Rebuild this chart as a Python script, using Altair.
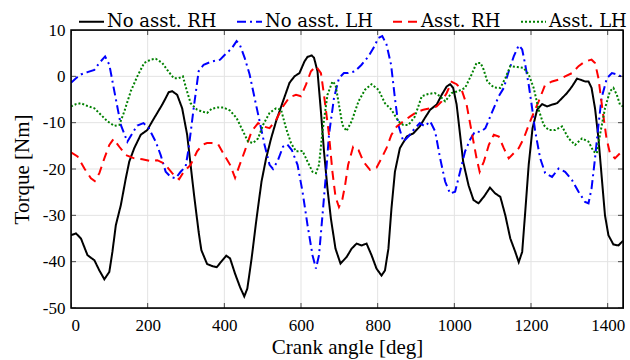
import altair as alt
import pandas as pd

# Crank torque traces over two crank revolutions (deg, Nm)
rh_no_deg = [0, 13, 26, 43, 61, 74, 87, 100, 108, 117, 130, 143, 152, 165, 182, 199, 212, 225, 238, 247,
             255, 264, 277, 290, 303, 312, 321, 333, 340, 355, 370, 380, 392, 405, 415, 428, 441, 452, 460, 471,
             484, 497, 509, 522, 535, 553, 570, 583, 596, 609, 617, 628, 634, 643, 652, 660, 669, 678, 690, 703,
             719, 732, 745, 758, 771, 784, 797, 810, 819, 828, 836, 845, 858, 876, 893, 910, 923, 937, 954, 967,
             980, 989, 997, 1006, 1015, 1023, 1037, 1050, 1063, 1077, 1093, 1107, 1120, 1133, 1146, 1159, 1168, 1177, 1185, 1194,
             1204, 1216, 1229, 1242, 1255, 1268, 1281, 1294, 1307, 1320, 1328, 1341, 1350, 1358, 1367, 1376, 1384, 1393, 1402, 1415,
             1428, 1440]
rh_no_nm = [-34.3, -33.9, -35.0, -38.6, -39.7, -41.9, -43.8, -42.2, -37.9, -32.1, -27.8, -22.0, -18.4, -15.5, -12.6, -11.6, -9.7, -7.9, -6.1, -4.7,
            -3.4, -3.2, -4.0, -6.9, -12.6, -19.1, -25.6, -33.6, -37.5, -40.5, -41.0, -41.2, -40.0, -38.7, -39.3, -42.6, -45.5, -47.5, -45.8, -39.4,
            -30.7, -22.7, -17.7, -13.4, -9.7, -5.4, -1.4, 0.0, 0.7, 3.2, 4.2, 4.5, 4.0, 1.1, -7.6, -16.2, -24.2, -30.7, -37.2, -40.4,
            -39.0, -37.2, -36.1, -36.5, -36.1, -38.6, -41.5, -43.0, -41.9, -37.2, -28.5, -20.6, -15.5, -13.0, -12.3, -10.8, -9.0, -7.2, -6.1, -4.0,
            -2.2, -1.7, -2.5, -6.1, -12.6, -18.4, -23.5, -26.7, -27.4, -26.0, -24.0, -25.3, -26.0, -30.0, -35.0, -37.9, -40.1, -37.9, -29.2, -19.1,
            -11.2, -7.2, -6.0, -6.5, -6.1, -5.8, -4.7, -3.6, -2.2, -0.5, -0.7, -1.1, -1.1, -2.5, -6.9, -13.4, -21.3, -30.0, -34.3, -36.3,
            -36.5, -35.5]

lh_no_deg = [0, 13, 26, 43, 61, 74, 89, 100, 113, 130, 147, 160, 173, 189, 203, 221, 234, 247, 260, 273,
             286, 299, 307, 320, 333, 346, 367, 389, 402, 419, 432, 440, 453, 466, 479, 492, 505, 518, 527, 540,
             553, 564, 576, 591, 604, 617, 630, 639, 647, 656, 665, 673, 686, 699, 712, 723, 741, 758, 776, 789,
             802, 812, 823, 835, 845, 854, 867, 880, 897, 910, 923, 937, 950, 963, 976, 989, 1002, 1015, 1028, 1041,
             1054, 1068, 1081, 1099, 1116, 1129, 1142, 1155, 1168, 1177, 1185, 1194, 1203, 1211, 1224, 1237, 1255, 1272, 1289, 1307,
             1324, 1341, 1350, 1358, 1367, 1376, 1384, 1398, 1411, 1424, 1440]
lh_no_nm = [-1.4, -0.4, 0.4, 0.9, 1.4, 2.9, 4.3, 2.5, -3.2, -10.5, -14.1, -12.3, -10.6, -10.1, -11.2, -14.1, -17.0, -20.6, -21.7, -22.0,
            -20.6, -19.5, -15.5, -6.9, 1.1, 2.5, 3.2, 3.6, 4.7, 6.0, 7.6, 6.9, 4.0, 0.4, -4.7, -9.7, -14.8, -19.1, -20.0, -18.1,
            -15.2, -14.7, -15.9, -19.1, -24.9, -32.1, -38.6, -41.5, -38.6, -30.0, -21.3, -12.6, -4.7, -0.4, 0.7, 0.7, 1.1, 2.5, 4.3, 6.1,
            8.3, 8.7, 6.9, 2.5, -4.7, -10.5, -14.1, -13.0, -11.2, -10.1, -10.8, -9.7, -11.9, -17.7, -22.7, -25.3, -24.9, -20.6, -16.2, -13.7,
            -11.9, -12.0, -11.2, -7.6, -4.3, -2.5, 1.1, 4.3, 6.7, 5.8, 2.5, -1.8, -6.9, -11.9, -17.7, -20.9, -21.7, -19.9, -20.6, -22.4,
            -24.9, -27.1, -27.4, -24.2, -17.7, -10.5, -4.7, -0.4, 0.7, 0.4, -0.2]

rh_as_deg = [0, 17, 35, 52, 62, 74, 87, 100, 111, 126, 143, 165, 186, 208, 225, 243, 264, 282, 294, 312,
             329, 342, 355, 367, 384, 402, 415, 428, 440, 453, 471, 488, 501, 518, 535, 553, 570, 587, 600, 613,
             626, 639, 652, 660, 673, 682, 690, 699, 708, 715, 723, 736, 750, 763, 780, 797, 810, 823, 836, 850,
             867, 884, 902, 919, 937, 954, 967, 980, 993, 1006, 1019, 1032, 1045, 1058, 1066, 1077, 1090, 1103, 1116, 1129,
             1142, 1155, 1168, 1181, 1194, 1207, 1220, 1237, 1255, 1272, 1289, 1307, 1324, 1341, 1358, 1367, 1376, 1386, 1397, 1406,
             1419, 1432, 1440]
rh_as_nm = [-16.4, -17.3, -19.9, -22.0, -22.6, -20.9, -17.7, -14.8, -13.5, -15.2, -17.0, -17.7, -17.9, -18.3, -18.1, -18.8, -20.9, -22.2, -20.6, -19.1,
            -16.2, -14.8, -14.4, -14.4, -14.7, -17.3, -19.1, -21.9, -19.1, -16.2, -11.9, -10.1, -10.8, -11.2, -9.4, -6.5, -4.5, -4.0, -4.3, -1.8,
            1.1, 2.2, 0.7, -4.0, -12.6, -20.6, -26.0, -28.2, -26.5, -23.5, -19.1, -15.2, -15.9, -18.4, -20.2, -19.7, -17.7, -15.5, -12.6, -10.8,
            -9.7, -8.7, -7.7, -7.2, -6.9, -6.5, -5.4, -3.6, -1.2, -1.7, -2.9, -6.1, -11.9, -17.7, -20.6, -18.4, -14.8, -12.6, -13.0, -15.5,
            -17.7, -16.6, -15.5, -13.4, -10.5, -7.9, -5.4, -1.8, -1.1, -0.7, 0.0, 0.7, 2.2, 3.2, 3.6, 2.9, -0.4, -6.9, -13.4, -16.6,
            -17.7, -16.6, -15.9]

lh_as_deg = [0, 13, 26, 43, 61, 78, 95, 113, 126, 139, 156, 173, 191, 208, 221, 238, 251, 268, 281, 292,
             299, 312, 329, 342, 355, 367, 384, 397, 415, 432, 449, 462, 475, 488, 501, 518, 535, 548, 561, 574,
             587, 604, 617, 630, 639, 647, 656, 669, 682, 690, 699, 708, 719, 732, 750, 767, 784, 802, 819, 836,
             854, 867, 880, 897, 915, 932, 949, 963, 976, 993, 1010, 1028, 1045, 1058, 1068, 1075, 1086, 1103, 1120, 1133,
             1146, 1164, 1181, 1194, 1207, 1220, 1233, 1246, 1263, 1281, 1298, 1315, 1333, 1350, 1363, 1372, 1380, 1393, 1406, 1415,
             1424, 1432, 1440]
lh_as_nm = [-6.5, -6.0, -5.8, -6.4, -6.9, -8.3, -9.7, -10.7, -10.5, -7.6, -3.2, 0.0, 2.9, 3.6, 3.8, 2.9, 1.4, -0.4, -0.4, 0.0,
            -2.2, -5.8, -7.2, -7.6, -7.9, -7.0, -6.7, -6.7, -7.4, -9.0, -11.9, -14.1, -14.4, -13.4, -10.5, -7.9, -6.9, -7.2, -11.2, -14.4,
            -16.2, -16.1, -18.4, -20.6, -20.9, -19.1, -11.9, -4.0, -1.1, -1.8, -6.1, -10.5, -11.8, -9.7, -5.4, -2.9, -1.7, -2.9, -5.8, -7.2,
            -9.7, -10.5, -10.5, -8.7, -4.3, -3.8, -3.6, -4.3, -5.4, -3.6, -3.2, -2.5, 0.4, 2.9, 2.9, 1.8, -1.1, -2.4, -2.5, -0.4,
            2.2, 2.0, 1.8, 0.4, -2.5, -7.2, -10.5, -11.6, -11.6, -10.8, -13.4, -14.8, -13.4, -14.1, -16.2, -16.6, -12.6, -6.9, -3.2, -2.5,
            -4.0, -6.1, -6.5]

series_names = ["No asst.  RH", "No asst.  LH", "Asst.  RH", "Asst.  LH"]
series_colors = ["#000000", "#0000ff", "#ff0000", "#008000"]
series_dashes = [[1, 0], [9, 4, 2, 4], [9, 6], [2, 2]]

x_ticks = [0, 200, 400, 600, 800, 1000, 1200, 1400]
y_ticks = [-50, -40, -30, -20, -10, 0, 10]
x_range = [0, 1440]
y_range = [-50, 10]

frames = []
for name, xs, ys in zip(series_names,
                        [rh_no_deg, lh_no_deg, rh_as_deg, lh_as_deg],
                        [rh_no_nm, lh_no_nm, rh_as_nm, lh_as_nm]):
    frames.append(pd.DataFrame({"angle": xs, "torque": ys, "series": name}))
df = pd.concat(frames, ignore_index=True)

x_scale = alt.Scale(domain=x_range, nice=False, zero=False)
y_scale = alt.Scale(domain=y_range, nice=False, zero=False)

xt = pd.DataFrame({"v": x_ticks})
yt = pd.DataFrame({"v": y_ticks})

# Light grid drawn as its own layer, beneath the traces and the frame
x_grid = alt.Chart(xt).mark_rule(color="#e3e3e3", strokeWidth=1).encode(
    x=alt.X("v:Q", scale=x_scale))
y_grid = alt.Chart(yt).mark_rule(color="#e3e3e3", strokeWidth=1).encode(
    y=alt.Y("v:Q", scale=y_scale))

legend = alt.Legend(
    title=None, orient="none", legendX=7, legendY=-22, direction="horizontal",
    symbolType="stroke", symbolSize=625, symbolStrokeWidth=2,
    labelFont="DejaVu Serif", labelFontSize=18, labelColor="black",
    labelOffset=2, columnPadding=10, padding=0, labelLimit=0,
)

lines = alt.Chart(df).mark_line(strokeWidth=2, clip=True).encode(
    x=alt.X("angle:Q", scale=x_scale, title="Crank angle [deg]",
            axis=alt.Axis(values=x_ticks, labelPadding=9, titlePadding=3,
                          labelExpr="'' + datum.value")),
    y=alt.Y("torque:Q", scale=y_scale, title="Torque [Nm]",
            axis=alt.Axis(values=y_ticks, labelPadding=6, titlePadding=10,
                          labelExpr="'' + datum.value")),
    color=alt.Color("series:N",
                    scale=alt.Scale(domain=series_names, range=series_colors), legend=legend),
    strokeDash=alt.StrokeDash("series:N",
                              scale=alt.Scale(domain=series_names, range=series_dashes), legend=legend),
    order=alt.Order("angle:Q"),
)

# Box frame around the plotting area
frame = alt.Chart(pd.DataFrame({"x0": [x_range[0]], "x1": [x_range[1]],
                                "y0": [y_range[0]], "y1": [y_range[1]]})).mark_rect(
    filled=False, stroke="black", strokeWidth=1.5).encode(
    x=alt.X("x0:Q", scale=x_scale), x2="x1:Q",
    y=alt.Y("y0:Q", scale=y_scale), y2="y1:Q")

# Inward tick marks on all four sides (outer half of each centred tick is clipped)
bottom_ticks = alt.Chart(xt).mark_tick(orient="vertical", color="black", thickness=1, size=10, clip=True).encode(
    x=alt.X("v:Q", scale=x_scale), y=alt.datum(y_range[0]))
top_ticks = alt.Chart(xt).mark_tick(orient="vertical", color="black", thickness=1, size=10, clip=True).encode(
    x=alt.X("v:Q", scale=x_scale), y=alt.datum(y_range[1]))
left_ticks = alt.Chart(yt).mark_tick(orient="horizontal", color="black", thickness=1, size=10, clip=True).encode(
    y=alt.Y("v:Q", scale=y_scale), x=alt.datum(x_range[0]))
right_ticks = alt.Chart(yt).mark_tick(orient="horizontal", color="black", thickness=1, size=10, clip=True).encode(
    y=alt.Y("v:Q", scale=y_scale), x=alt.datum(x_range[1]))

chart = alt.layer(x_grid, y_grid, lines, frame,
                  bottom_ticks, top_ticks, left_ticks, right_ticks).properties(
    width=552, height=278,
    background="white",
    autosize=alt.AutoSizeParams(type="none"),
    padding={"left": 71, "top": 30, "right": 7, "bottom": 52},
).configure_view(
    stroke="black", strokeWidth=1,
).configure_axis(
    labelFont="Liberation Serif", labelFontSize=17, labelColor="black",
    titleFont="Liberation Serif", titleFontSize=21, titleFontWeight="normal", titleColor="black",
    grid=False, domain=False, ticks=False,
)

chart.save("out.html", embed_options={"renderer": "svg", "actions": False})
